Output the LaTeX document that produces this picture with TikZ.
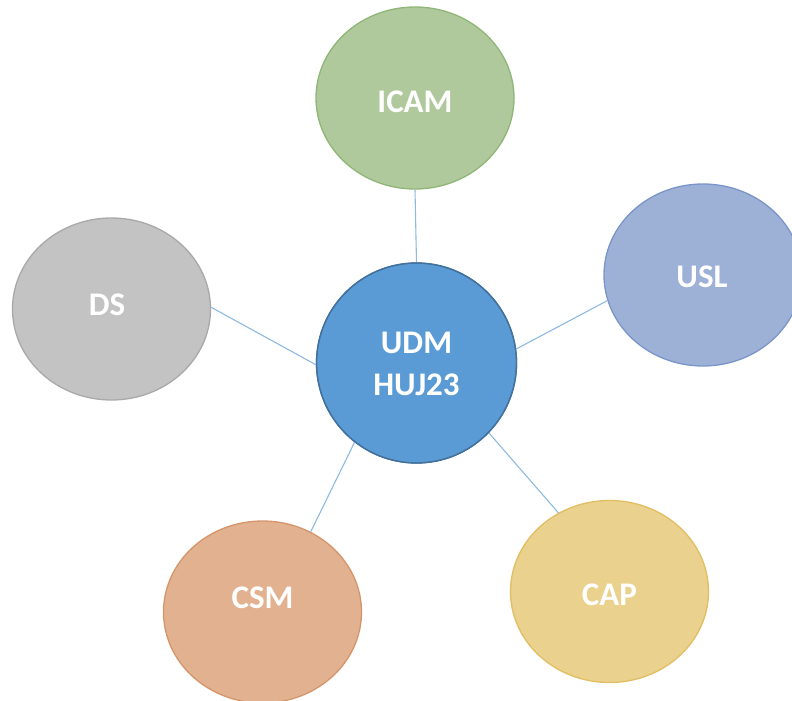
\documentclass[tikz,border=0pt]{standalone}
\usepackage{fontspec}
\setmainfont{Carlito}
\usetikzlibrary{shapes.geometric}
\definecolor{linkc}{HTML}{8DBAE2}
\definecolor{udmf}{HTML}{5B9BD5}\definecolor{udmd}{HTML}{41719C}
\definecolor{icamf}{HTML}{AFC99D}\definecolor{icamd}{HTML}{8FB676}
\definecolor{uslf}{HTML}{9DB0D6}\definecolor{usld}{HTML}{7C95C8}
\definecolor{dsf}{HTML}{C3C3C3}\definecolor{dsd}{HTML}{A9A9A9}
\definecolor{csmf}{HTML}{E2B190}\definecolor{csmd}{HTML}{D5956A}
\definecolor{capf}{HTML}{EBD18E}\definecolor{capd}{HTML}{E2BE62}
\tikzset{
  bubble/.style={ellipse, minimum width=198pt, minimum height=182pt, inner sep=0pt, line width=1.3pt},
  hub/.style={circle, minimum size=200pt, inner sep=0pt, line width=1.3pt, fill=udmf, draw=udmd},
  lbl/.style={text=white, font=\fontsize{33}{42}\selectfont\bfseries, align=center, inner sep=0pt},
  link/.style={draw=linkc, line width=1.1pt}
}
\begin{document}
\begin{tikzpicture}[x=1pt, y=-1pt]
\useasboundingbox (0,0) rectangle (792,701);
\node[bubble, fill=icamf, draw=icamd] (icam) at (415,98) {};
\node[bubble, fill=uslf, draw=usld] (usl) at (703,275) {};
\node[bubble, fill=dsf, draw=dsd] (ds) at (111.5,309) {};
\node[bubble, fill=csmf, draw=csmd] (csm) at (262.5,612) {};
\node[bubble, fill=capf, draw=capd] (cap) at (609.5,591.5) {};
\node[hub] (udm) at (416.5,363) {};
\draw[link] (udm.90) -- (icam.270);
\draw[link] (udm.8) -- (usl.195.8);
\draw[link] (udm.181) -- (ds.1);
\draw[link] (udm.232) -- (csm.59.8);
\draw[link] (udm.316.4) -- (cap.123.2);
\node[hub, fill=none, draw=udmd] (udmb) at (416.5,363) {};
\node[lbl] (icam-t) at (415,102) {ICAM};
\node[lbl] (usl-t) at (702,277) {USL};
\node[lbl] (ds-t) at (107,305) {DS};
\node[lbl] (csm-t) at (262.5,598) {CSM};
\node[lbl] (cap-t) at (609.5,595) {CAP};
\node[lbl] (udm-t) at (416.5,364) {UDM\\HUJ23};
\end{tikzpicture}
\end{document}
